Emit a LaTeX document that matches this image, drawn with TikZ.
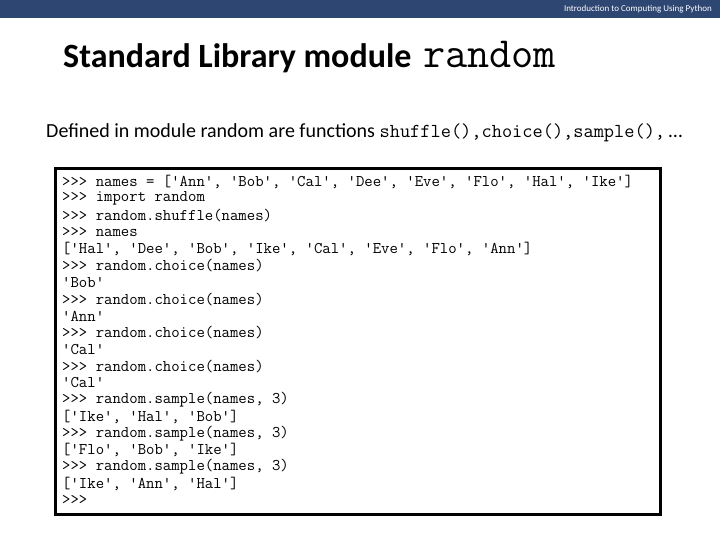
\documentclass[tikz,border=0pt]{standalone}
\usepackage{fontspec}
\setmainfont{Carlito}
\setmonofont{Latin Modern Mono}
\definecolor{bar}{HTML}{2E4672}
\begin{document}
\begin{tikzpicture}[x=1pt,y=1pt,
  codeline/.style={anchor=west,inner sep=0pt,font=\fontsize{16.3}{16}\ttfamily}]
\useasboundingbox (0,0) rectangle (720,540);
\fill[bar] (0,522) rectangle (720,540);
\node[anchor=east,text=white,font=\fontsize{9}{10}\selectfont,inner sep=0pt] (hdr) at (712,531) {Introduction to Computing Using Python};
\node[anchor=west,inner sep=0pt,font=\fontsize{34}{36}\bfseries] (title) at (63,483) {Standard Library module \hspace{4pt}\fontsize{43}{43}\mdseries\ttfamily random};
\node[anchor=west,inner sep=0pt,font=\fontsize{20}{22}\selectfont] (sub) at (46,407) {Defined in module random are functions \fontsize{19.8}{18}\ttfamily shuffle(),choice(),sample(),\rmfamily\fontsize{20}{22}\selectfont\,…};
\draw[line width=3] (55.5,25.5) rectangle (660.5,371.5);
\foreach \t [count=\i] in {
{>>> names = ['Ann', 'Bob', 'Cal', 'Dee', 'Eve', 'Flo', 'Hal', 'Ike']},
{>>> import random},
{>>> random.shuffle(names)},
{>>> names},
{['Hal', 'Dee', 'Bob', 'Ike', 'Cal', 'Eve', 'Flo', 'Ann']},
{>>> random.choice(names)},
{'Bob'},
{>>> random.choice(names)},
{'Ann'},
{>>> random.choice(names)},
{'Cal'},
{>>> random.choice(names)},
{'Cal'},
{>>> random.sample(names, 3)},
{['Ike', 'Hal', 'Bob']},
{>>> random.sample(names, 3)},
{['Flo', 'Bob', 'Ike']},
{>>> random.sample(names, 3)},
{['Ike', 'Ann', 'Hal']},
{>>>}}
  \node[codeline] (l\i) at (62,{540-182-(\i-1)*16.75}) {\t};
\end{tikzpicture}
\end{document}
